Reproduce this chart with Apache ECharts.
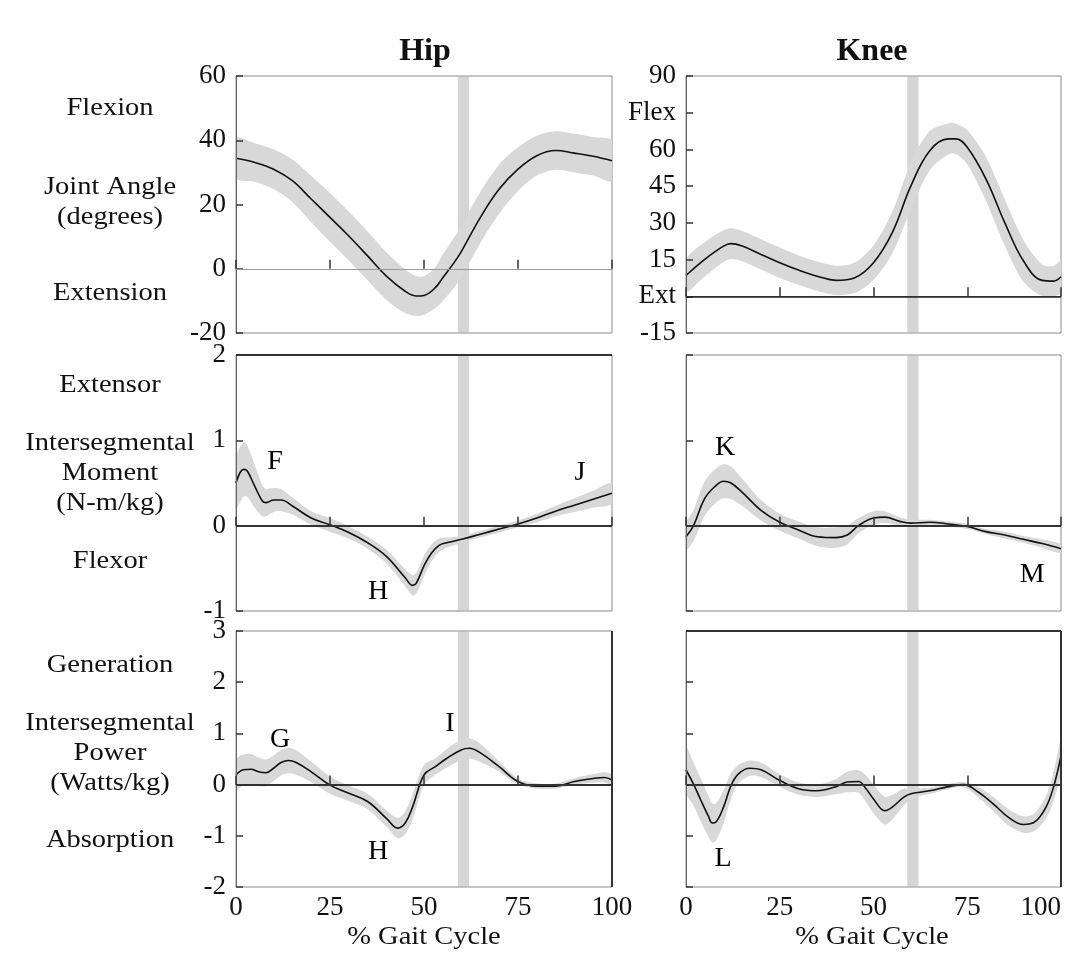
<!DOCTYPE html>
<html>
<head>
<meta charset="utf-8">
<title>Hip and Knee gait curves</title>
<script src="https://cdn.jsdelivr.net/npm/echarts@6/dist/echarts.min.js"></script>
<style>
  html, body { margin: 0; padding: 0; background: #fff; }
  #chart { width: 1078px; height: 953px; }
</style>
</head>
<body>
<div id="chart"></div>
<script>
// % gait cycle ticks
const gaitTicks = [0, 25, 50, 75, 100]

// hip joint angle (degrees)
const hipAngleX = [0, 5, 10, 15, 20, 25, 30, 35, 40, 45, 48, 50, 53, 55, 58, 60, 65, 70, 75, 80, 85, 90, 95, 100]
const hipAngle = [34.4, 33.1, 31, 27.4, 21.7, 16, 10.2, 4, -2.3, -7, -8.5, -8.3, -5.9, -2.8, 1.9, 5.5, 16, 24.8, 31, 35.2, 36.8, 36, 35, 33.6]
const hipAngleSd = [6.2, 6, 6.2, 6.6, 7.2, 7.6, 7.6, 7.6, 7.4, 6.8, 6.2, 6, 6.4, 7.2, 7.8, 8, 8, 7.6, 6.8, 6.2, 6, 6, 6, 6.2]

// knee joint angle (degrees)
const kneeAngleX = [0, 5, 10, 12, 15, 20, 25, 30, 35, 40, 45, 50, 55, 60, 65, 70, 72, 75, 80, 85, 90, 95, 98, 100]
const kneeAngle = [8.5, 15.1, 20.5, 21.5, 20.5, 17.1, 13.7, 10.7, 8.2, 6.5, 7.6, 13.7, 26, 45.2, 59.5, 64.3, 64.3, 60.9, 47.9, 30.1, 14.4, 6.5, 6.2, 8]
const kneeAngleSd = [6.5, 7, 6.5, 6.3, 6.2, 6.2, 6.2, 6, 6, 6, 6.2, 7, 8.5, 9.5, 8, 6.3, 6.2, 7, 9, 9.5, 8.5, 6.5, 6.2, 6.5]

// hip intersegmental moment (N-m/kg)
const hipMomentX = [0, 2, 3, 5, 7, 8, 10, 12, 15, 20, 25, 30, 35, 40, 45, 47, 48, 50, 52, 54, 56, 60, 65, 70, 75, 80, 85, 90, 95, 100]
const hipMoment = [0.5, 0.66, 0.64, 0.46, 0.29, 0.27, 0.3, 0.3, 0.23, 0.09, 0.01, -0.08, -0.2, -0.36, -0.61, -0.7, -0.67, -0.47, -0.32, -0.23, -0.2, -0.16, -0.1, -0.04, 0.02, 0.09, 0.17, 0.24, 0.31, 0.38]
const hipMomentSd = [0.3, 0.32, 0.3, 0.25, 0.18, 0.16, 0.14, 0.13, 0.1, 0.08, 0.08, 0.07, 0.07, 0.08, 0.1, 0.12, 0.12, 0.12, 0.1, 0.08, 0.06, 0.04, 0.04, 0.04, 0.04, 0.05, 0.06, 0.08, 0.1, 0.12]

// knee intersegmental moment (N-m/kg)
const kneeMomentX = [0, 2, 5, 8, 10, 12, 15, 20, 25, 30, 35, 40, 43, 46, 50, 53, 57, 60, 65, 70, 75, 80, 85, 90, 95, 100]
const kneeMoment = [-0.13, 0, 0.32, 0.47, 0.52, 0.5, 0.39, 0.18, 0.04, -0.05, -0.13, -0.14, -0.11, 0, 0.09, 0.1, 0.05, 0.03, 0.04, 0.02, -0.01, -0.07, -0.11, -0.16, -0.21, -0.27]
const kneeMomentSd = [0.15, 0.18, 0.2, 0.2, 0.2, 0.19, 0.16, 0.12, 0.1, 0.1, 0.11, 0.12, 0.11, 0.09, 0.08, 0.07, 0.05, 0.04, 0.03, 0.03, 0.03, 0.03, 0.04, 0.04, 0.05, 0.05]

// hip intersegmental power (Watts/kg)
const hipPowerX = [0, 2, 4, 6, 8, 10, 12, 14, 16, 20, 25, 30, 35, 40, 43, 45, 47, 50, 53, 56, 60, 62, 65, 70, 75, 80, 85, 90, 95, 98, 100]
const hipPower = [0.19, 0.29, 0.3, 0.25, 0.23, 0.32, 0.43, 0.47, 0.43, 0.25, -0.01, -0.17, -0.33, -0.66, -0.85, -0.75, -0.43, 0.19, 0.35, 0.51, 0.68, 0.71, 0.62, 0.35, 0.06, -0.03, -0.03, 0.06, 0.12, 0.14, 0.09]
const hipPowerSd = [0.3, 0.3, 0.3, 0.28, 0.26, 0.25, 0.25, 0.25, 0.24, 0.2, 0.17, 0.15, 0.15, 0.16, 0.2, 0.22, 0.25, 0.2, 0.16, 0.18, 0.2, 0.2, 0.18, 0.1, 0.06, 0.05, 0.05, 0.07, 0.08, 0.1, 0.1]

// knee intersegmental power (Watts/kg)
const kneePowerX = [0, 2, 4, 6, 7, 8, 10, 12, 14, 17, 20, 25, 30, 35, 40, 43, 46, 48, 50, 53, 55, 58, 60, 65, 70, 74, 78, 82, 86, 90, 93, 96, 98, 100]
const kneePower = [0.29, 0.01, -0.31, -0.62, -0.75, -0.73, -0.44, -0.02, 0.21, 0.32, 0.29, 0.08, -0.08, -0.12, -0.04, 0.05, 0.06, -0.08, -0.28, -0.51, -0.44, -0.25, -0.18, -0.12, -0.04, 0, -0.15, -0.38, -0.64, -0.78, -0.73, -0.44, -0.05, 0.56]
const kneePowerSd = [0.45, 0.42, 0.42, 0.4, 0.38, 0.36, 0.32, 0.25, 0.18, 0.15, 0.14, 0.12, 0.12, 0.12, 0.15, 0.2, 0.22, 0.26, 0.28, 0.27, 0.24, 0.17, 0.1, 0.06, 0.05, 0.05, 0.1, 0.14, 0.16, 0.16, 0.17, 0.22, 0.28, 0.32]

// toe-off band (% gait cycle)
const toeOff = [59, 62]

// annotation letters: [panel, x, y, letter]
const letters = [
  [1, 10.4, 0.75, 'F'], [1, 37.8, -0.77, 'H'], [1, 91.5, 0.62, 'J'],
  [4, 10.4, 0.91, 'K'], [4, 92.3, -0.57, 'M'],
  [2, 11.7, 0.88, 'G'], [2, 56.9, 1.2, 'I'], [2, 37.8, -1.31, 'H'],
  [5, 9.9, -1.44, 'L']
]

const FONT = '"Liberation Serif", "DejaVu Serif", serif'
const chart = echarts.init(document.getElementById('chart'))

// grids: 0..2 hip rows, 3..5 knee rows
const colLeft = [236, 686]
const colWidth = [376, 375]
const rowTop = [76, 355, 631]
const rowHeight = [257, 256, 256]

const grids = []
for (let c = 0; c < 2; c++) {
  for (let r = 0; r < 3; r++) {
    grids.push({
      left: colLeft[c], top: rowTop[r], width: colWidth[c], height: rowHeight[r],
      outerBoundsMode: 'none', containLabel: false,
      show: true, borderColor: '#8a8a8a', borderWidth: 1, backgroundColor: 'transparent'
    })
  }
}

const xAxes = grids.map((g, i) => {
  const bottomRow = i % 3 === 2
  return {
    gridIndex: i, type: 'value', min: 0, max: 100, interval: 25, z: 4,
    axisLine: { show: true, lineStyle: { color: '#666', width: 1 } },
    axisTick: { show: true, inside: true, length: 9, lineStyle: { color: '#333', width: 1.5 } },
    axisLabel: {
      show: bottomRow, fontFamily: FONT, fontSize: 27, color: '#111', margin: 7,
      alignMaxLabel: i === 5 ? 'right' : null,
      formatter: v => gaitTicks.indexOf(v) >= 0 ? String(v) : ''
    },
    splitLine: { show: false }
  }
})

const yLimits = [
  [-20, 60, 20], [-1, 2, 1], [-2, 3, 1],
  [-15, 90, 15], [-1, 2, 1], [-2, 3, 1]
]
const yAxes = yLimits.map((lim, i) => {
  const knee = i >= 3
  const showLabel = !knee || i === 3
  return {
    gridIndex: i, type: 'value', min: lim[0], max: lim[1], interval: lim[2], z: 4,
    axisLine: { show: true, lineStyle: { color: '#666', width: 1 } },
    axisTick: { show: true, inside: true, length: 7, lineStyle: { color: '#333', width: 1.5 } },
    axisLabel: {
      show: showLabel, fontFamily: FONT, fontSize: 27, color: '#111', margin: 10,
      formatter: v => {
        if (i === 3 && v === 75) return 'Flex'
        if (i === 3 && v === 0) return 'Ext'
        return String(v)
      }
    },
    splitLine: { show: false }
  }
})

function toPairs(xs, ys) {
  return xs.map((x, k) => [x, ys[k]])
}

// shaded ±SD tube drawn as one polygon through the axis scales
function bandSeries(idx, xs, ys, sd) {
  return {
    type: 'custom', xAxisIndex: idx, yAxisIndex: idx, silent: true, z: 1, clip: true,
    data: xs.map((x, k) => [x, ys[k] - sd[k], ys[k] + sd[k]]),
    encode: { x: 0, y: [1, 2] },
    renderItem: (params, api) => {
      if (params.dataIndex !== 0) return
      const up = []
      const lo = []
      for (let k = 0; k < xs.length; k++) {
        up.push(api.coord([xs[k], ys[k] + sd[k]]))
        lo.push(api.coord([xs[k], ys[k] - sd[k]]))
      }
      return {
        type: 'polygon',
        shape: { points: up.concat(lo.reverse()), smooth: 0.3 },
        style: { fill: '#d8d8d8', stroke: null }
      }
    }
  }
}

function lineSeries(idx, xs, ys, zeroStyle) {
  return {
    type: 'line', xAxisIndex: idx, yAxisIndex: idx,
    data: toPairs(xs, ys), smooth: 0.4, symbol: 'none',
    lineStyle: { color: '#111', width: 1.6 }, z: 3,
    markArea: {
      silent: true,
      itemStyle: { color: 'rgba(185,185,185,0.6)' },
      data: [[{ xAxis: toeOff[0] }, { xAxis: toeOff[1] }]]
    },
    markLine: {
      silent: true, symbol: 'none', label: { show: false },
      lineStyle: zeroStyle,
      data: [{ yAxis: 0 }]
    }
  }
}

const darkZero = { color: '#333', width: 2, type: 'solid' }
const series = [
  bandSeries(0, hipAngleX, hipAngle, hipAngleSd),
  lineSeries(0, hipAngleX, hipAngle, { color: '#999', width: 1, type: 'solid' }),
  bandSeries(1, hipMomentX, hipMoment, hipMomentSd),
  lineSeries(1, hipMomentX, hipMoment, darkZero),
  bandSeries(2, hipPowerX, hipPower, hipPowerSd),
  lineSeries(2, hipPowerX, hipPower, darkZero),
  bandSeries(3, kneeAngleX, kneeAngle, kneeAngleSd),
  lineSeries(3, kneeAngleX, kneeAngle, { color: '#222', width: 1.5, type: 'solid' }),
  bandSeries(4, kneeMomentX, kneeMoment, kneeMomentSd),
  lineSeries(4, kneeMomentX, kneeMoment, darkZero),
  bandSeries(5, kneePowerX, kneePower, kneePowerSd),
  lineSeries(5, kneePowerX, kneePower, darkZero)
]

// letters as label-only scatter points
for (let p = 0; p < 6; p++) {
  const pts = letters.filter(l => l[0] === p)
  if (!pts.length) continue
  series.push({
    type: 'scatter', xAxisIndex: p, yAxisIndex: p, symbolSize: 0, silent: true, z: 5,
    itemStyle: { opacity: 1 },
    data: pts.map(l => ({ value: [l[1], l[2]], name: l[3] })),
    label: {
      show: true, position: 'inside', formatter: '{b}', opacity: 1,
      fontFamily: FONT, fontSize: 28, color: '#000', textBorderWidth: 0
    }
  })
}

// heavier edges seen in the figure
const edge = { silent: true, symbol: 'none', label: { show: false }, lineStyle: { color: '#333', width: 2, type: 'solid' } }
series.push(
  { type: 'line', xAxisIndex: 1, yAxisIndex: 1, data: [], silent: true, markLine: { ...edge, data: [{ yAxis: 2 }] } },
  { type: 'line', xAxisIndex: 2, yAxisIndex: 2, data: [], silent: true, markLine: { ...edge, data: [{ xAxis: 100 }] } },
  { type: 'line', xAxisIndex: 5, yAxisIndex: 5, data: [], silent: true, markLine: { ...edge, data: [{ yAxis: 3 }, { xAxis: 100 }] } }
)

// row descriptions on the left
const leftText = [
  ['Flexion', 108], ['Joint Angle', 187], ['(degrees)', 217], ['Extension', 293],
  ['Extensor', 385], ['Intersegmental', 443], ['Moment', 473], ['(N-m/kg)', 503], ['Flexor', 561],
  ['Generation', 665], ['Intersegmental', 723], ['Power', 753], ['(Watts/kg)', 783], ['Absorption', 840]
]

function textEl(str, x, y, size, bold) {
  return {
    type: 'text', x: x, y: y, scaleX: bold ? 1 : 1.14, scaleY: 1,
    style: {
      text: str, fontFamily: FONT, fontSize: size, fontWeight: bold ? 'bold' : 'normal', fill: '#111',
      textAlign: 'center', textVerticalAlign: 'middle'
    }
  }
}

const graphic = leftText.map(t => textEl(t[0], 110, t[1], 25, false))
graphic.push(
  textEl('Hip', 425, 52, 32, true),
  textEl('Knee', 872, 52, 32, true),
  textEl('% Gait Cycle', 424, 937, 25, false),
  textEl('% Gait Cycle', 872, 937, 25, false)
)

chart.setOption({
  animation: false,
  backgroundColor: '#fff',
  grid: grids,
  xAxis: xAxes,
  yAxis: yAxes,
  series: series,
  graphic: graphic
})
</script>
</body>
</html>
